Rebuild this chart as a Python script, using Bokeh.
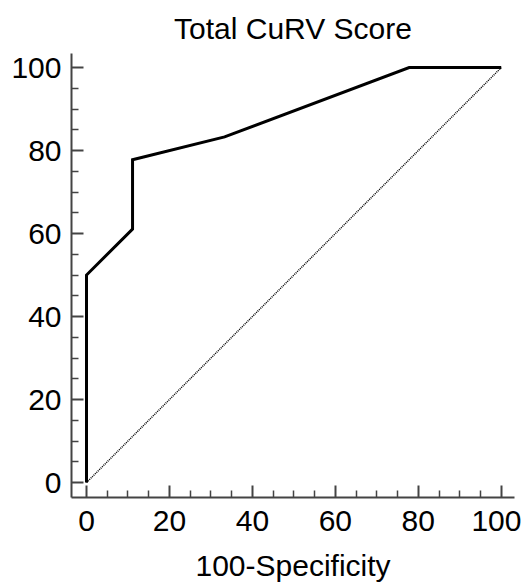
from bokeh.plotting import figure
from bokeh.models import Range1d, FixedTicker
from bokeh.embed import file_html
from bokeh.resources import INLINE

# ROC curve data (100-Specificity, Sensitivity)
fpr = [0, 0, 11.1, 11.1, 33.3, 77.8, 100]
tpr = [0, 50, 61.1, 77.8, 83.3, 100, 100]
ref_x = [0, 100]
ref_y = [0, 100]

major_ticks = [0, 20, 40, 60, 80, 100]
minor_ticks = [5, 10, 15, 25, 30, 35, 45, 50, 55, 65, 70, 75, 85, 90, 95]

FONT = "Liberation Sans"

p = figure(frame_width=443, frame_height=444,
           min_border_left=71, min_border_right=7,
           min_border_top=53, min_border_bottom=86,
           x_range=Range1d(-3.62, 103.2), y_range=Range1d(-3.61, 103.4),
           output_backend="svg", toolbar_location=None,
           title="Total CuRV Score")

p.title.text_font = FONT
p.title.text_font_size = "30px"
p.title.text_font_style = "normal"
p.title.align = "center"
p.title.vertical_align = "top"
p.title.text_color = "black"
p.title.standoff = 13

p.grid.visible = False
p.outline_line_color = None

for ax in (p.xaxis[0], p.yaxis[0]):
    ax.ticker = FixedTicker(ticks=major_ticks, minor_ticks=minor_ticks)
    ax.axis_line_color = "#444444"
    ax.axis_line_width = 2
    ax.major_tick_line_color = "#444444"
    ax.major_tick_line_width = 2
    ax.minor_tick_line_color = "#444444"
    ax.minor_tick_line_width = 1.5
    ax.major_tick_in = 12
    ax.major_tick_out = 0
    ax.minor_tick_in = 7
    ax.minor_tick_out = 0
    ax.major_label_text_font = FONT
    ax.major_label_text_font_size = "30px"
    ax.major_label_text_color = "black"
    ax.axis_label_text_font = FONT
    ax.axis_label_text_font_size = "30px"
    ax.axis_label_text_font_style = "normal"
    ax.axis_label_text_color = "black"

p.xaxis.major_label_standoff = 13
p.yaxis.major_label_standoff = 10
p.xaxis.axis_label = "100-Specificity"
p.xaxis.axis_label_standoff = 15

p.line(ref_x, ref_y, line_color="black", line_width=1.5, line_dash="1 1")
p.line(fpr, tpr, line_color="black", line_width=3, line_join="miter")

open("out.html", "w").write(file_html(p, INLINE))
